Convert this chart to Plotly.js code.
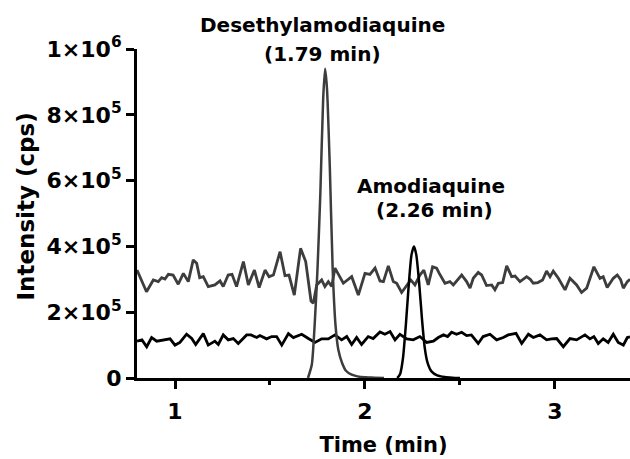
<!DOCTYPE html>
<html>
<head>
<meta charset="utf-8">
<script src="https://cdn.plot.ly/plotly-3.0.1.min.js"></script>
<style>html,body{margin:0;padding:0;background:#fff;}#chart{width:630px;height:459px;}</style>
</head>
<body>
<div id="chart"></div>
<script>
// Gray (Desethylamodiaquine channel) baseline
var grayBaseX = [0.800,0.850,0.886,0.912,0.930,0.947,0.965,0.990,1.017,1.044,1.070,1.096,1.114,1.130,1.149,1.175,1.210,1.237,1.254,1.280,1.300,1.324,1.360,1.386,1.418,1.443,1.474,1.495,1.518,1.553,1.579,1.600,1.628,1.661,1.688,1.716,1.728,1.746,1.772,1.789,1.807,1.825,1.842,1.886,1.930,1.965,2.000,2.026,2.053,2.079,2.097,2.123,2.149,2.167,2.193,2.220,2.241,2.263,2.289,2.310,2.333,2.356,2.377,2.391,2.421,2.447,2.465,2.509,2.535,2.553,2.570,2.596,2.614,2.640,2.667,2.684,2.702,2.725,2.746,2.772,2.790,2.816,2.851,2.870,2.886,2.910,2.935,2.956,2.974,2.991,3.018,3.053,3.079,3.114,3.140,3.167,3.205,3.237,3.254,3.275,3.307,3.328,3.345,3.360,3.381,3.395];
var grayBaseY = [328e3,262e3,298e3,293e3,305e3,301e3,315e3,313e3,285e3,318e3,293e3,359e3,349e3,305e3,308e3,278e3,283e3,295e3,278e3,313e3,315e3,278e3,354e3,283e3,328e3,275e3,328e3,308e3,313e3,384e3,311e3,313e3,252e3,394e3,354e3,234e3,227e3,283e3,298e3,278e3,293e3,278e3,334e3,288e3,308e3,252e3,318e3,315e3,334e3,295e3,293e3,341e3,293e3,288e3,260e3,283e3,298e3,283e3,313e3,328e3,283e3,338e3,334e3,318e3,288e3,293e3,283e3,313e3,293e3,273e3,303e3,321e3,313e3,281e3,283e3,268e3,288e3,290e3,341e3,308e3,310e3,293e3,308e3,300e3,288e3,290e3,298e3,325e3,308e3,325e3,303e3,268e3,303e3,283e3,260e3,273e3,338e3,303e3,308e3,275e3,303e3,313e3,300e3,273e3,293e3,300e3];

// Black (Amodiaquine channel) baseline
var blackBaseX = [0.800,0.826,0.851,0.877,0.904,0.938,0.974,1.000,1.026,1.061,1.088,1.109,1.149,1.175,1.210,1.228,1.254,1.280,1.307,1.333,1.377,1.400,1.430,1.447,1.482,1.509,1.535,1.562,1.597,1.623,1.667,1.702,1.737,1.772,1.807,1.842,1.877,1.904,1.930,1.956,1.982,2.017,2.043,2.079,2.105,2.132,2.158,2.184,2.220,2.254,2.289,2.325,2.360,2.386,2.413,2.435,2.456,2.482,2.509,2.535,2.560,2.596,2.622,2.658,2.693,2.728,2.754,2.795,2.825,2.860,2.886,2.921,2.956,2.982,3.009,3.044,3.079,3.114,3.158,3.184,3.205,3.228,3.254,3.280,3.307,3.333,3.360,3.381,3.395];
var blackBaseY = [112e3,116e3,95e3,123e3,112e3,116e3,119e3,100e3,108e3,133e3,120e3,102e3,135e3,100e3,112e3,102e3,131e3,116e3,120e3,105e3,131e3,131e3,123e3,129e3,119e3,126e3,126e3,100e3,135e3,123e3,133e3,120e3,108e3,119e3,119e3,131e3,116e3,126e3,102e3,123e3,102e3,126e3,120e3,140e3,133e3,141e3,116e3,133e3,119e3,116e3,126e3,108e3,112e3,123e3,131e3,126e3,139e3,133e3,139e3,129e3,131e3,105e3,126e3,133e3,116e3,123e3,131e3,136e3,105e3,133e3,123e3,131e3,116e3,119e3,120e3,95e3,120e3,116e3,131e3,119e3,126e3,105e3,119e3,108e3,133e3,108e3,100e3,123e3,125e3];

// Desethylamodiaquine peak (1.79 min)
var desPeakX = [1.700,1.720,1.735,1.750,1.765,1.780,1.790,1.800,1.815,1.830,1.845,1.860,1.880,1.900,1.930,1.960,2.000,2.050,2.100];
var desPeakY = [0,40e3,160e3,330e3,560e3,850e3,940e3,880e3,640e3,330e3,160e3,85e3,45e3,22e3,10e3,5e3,2e3,1e3,0];

// Amodiaquine peak (2.26 min)
var amoPeakX = [2.170,2.185,2.200,2.215,2.230,2.245,2.258,2.270,2.285,2.300,2.315,2.330,2.350,2.380,2.420,2.460,2.500];
var amoPeakY = [0,12e3,60e3,160e3,280e3,375e3,400e3,375e3,290e3,180e3,90e3,45e3,20e3,8e3,3e3,1e3,0];

var yTickVals = [0,2e5,4e5,6e5,8e5,1e6];
var yTickText = ['0','2×10<sup>5</sup>','4×10<sup>5</sup>','6×10<sup>5</sup>','8×10<sup>5</sup>','1×10<sup>6</sup>'];
var xTickVals = [1,2,3];
var xTickText = ['1','2','3'];

var grayCol = '#3d3d3d';
var FONT = 'DejaVu Sans, Arial, sans-serif';

var traces = [
  {x: grayBaseX, y: grayBaseY, mode: 'lines', line: {color: grayCol, width: 2.8}, hoverinfo: 'skip'},
  {x: blackBaseX, y: blackBaseY, mode: 'lines', line: {color: '#000', width: 2.8}, hoverinfo: 'skip'},
  {x: desPeakX, y: desPeakY, mode: 'lines', line: {color: grayCol, width: 2.5, shape: 'spline', smoothing: 0.6}, hoverinfo: 'skip'},
  {x: amoPeakX, y: amoPeakY, mode: 'lines', line: {color: '#000', width: 2.5, shape: 'spline', smoothing: 0.6}, hoverinfo: 'skip'}
];

var layout = {
  width: 630, height: 459,
  margin: {l: 137, r: 0, t: 49, b: 81, pad: 0},
  paper_bgcolor: '#fff', plot_bgcolor: '#fff',
  showlegend: false,
  font: {family: FONT, color: '#000', weight: 'bold'},
  xaxis: {
    range: [0.8, 3.395], showgrid: false, zeroline: false,
    showline: true, linecolor: '#000', linewidth: 3,
    ticks: 'outside', ticklen: 8, tickwidth: 3, tickcolor: '#000',
    tickmode: 'array', tickvals: xTickVals, ticktext: xTickText,
    tickfont: {family: FONT, size: 22, weight: 'bold', color: '#000'},
    ticklabelstandoff: 4,
    minor: {tickmode: 'linear', tick0: 0.5, dtick: 0.5, ticks: 'outside', ticklen: 4, tickwidth: 3, tickcolor: '#000', showgrid: false},
    title: {text: 'Time (min)', font: {family: FONT, size: 21, weight: 'bold', color: '#000'}, standoff: 14}
  },
  yaxis: {
    range: [0, 1e6], showgrid: false, zeroline: false,
    showline: true, linecolor: '#000', linewidth: 3,
    ticks: 'outside', ticklen: 8, tickwidth: 3, tickcolor: '#000',
    tickmode: 'array', tickvals: yTickVals, ticktext: yTickText,
    tickfont: {family: FONT, size: 22, weight: 'bold', color: '#000'}
  },
  annotations: [
    {xref: 'paper', yref: 'paper', x: (25-137)/493, y: (378-206.5)/329, text: 'Intensity (cps)', textangle: -90, showarrow: false,
     font: {family: FONT, size: 23, weight: 'bold', color: '#000'}, xanchor: 'center', yanchor: 'middle'},
    {xref: 'x', yref: 'paper', x: 1.775, y: (378-25)/329, text: 'Desethylamodiaquine', showarrow: false,
     font: {family: FONT, size: 20, weight: 'bold', color: '#000'}, xanchor: 'center', yanchor: 'middle'},
    {xref: 'x', yref: 'paper', x: 1.776, y: (378-54)/329, text: '(1.79 min)', showarrow: false,
     font: {family: FONT, size: 20, weight: 'bold', color: '#000'}, xanchor: 'center', yanchor: 'middle'},
    {xref: 'x', yref: 'paper', x: 2.35, y: (378-186)/329, text: 'Amodiaquine', showarrow: false,
     font: {family: FONT, size: 20, weight: 'bold', color: '#000'}, xanchor: 'center', yanchor: 'middle'},
    {xref: 'x', yref: 'paper', x: 2.368, y: (378-210)/329, text: '(2.26 min)', showarrow: false,
     font: {family: FONT, size: 20, weight: 'bold', color: '#000'}, xanchor: 'center', yanchor: 'middle'}
  ]
};

Plotly.newPlot('chart', traces, layout, {displayModeBar: false, staticPlot: true});
</script>
</body>
</html>
